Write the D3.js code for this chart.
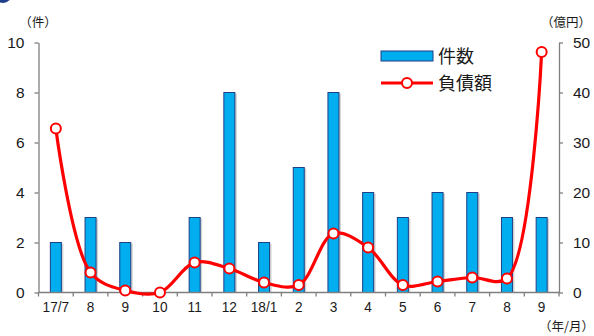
<!DOCTYPE html>
<html>
<head>
<meta charset="utf-8">
<script src="https://cdn.jsdelivr.net/npm/d3@7/dist/d3.min.js"></script>
<style>
  html, body { margin: 0; padding: 0; background: #fff; }
  svg { display: block; }
  text { font-family: "Liberation Sans", Arial, "Noto Sans CJK JP", sans-serif; fill: #1a1a1a; }
  .cjk { font-family: "Noto Sans CJK JP", "Noto Sans", sans-serif; }
</style>
</head>
<body>
<svg id="chart" width="594" height="336"></svg>
<script>
// Monthly bankruptcies: count (bars, left axis) and liabilities in 億円 (line, right axis)
const months = ["17/7", "8", "9", "10", "11", "12", "18/1", "2", "3", "4", "5", "6", "7", "8", "9"];
const counts = [2, 3, 2, 0, 3, 8, 2, 5, 8, 4, 3, 4, 4, 3, 3];
const debts = [32.8, 4.0, 0.4, 0.0, 6.0, 4.8, 2.0, 1.5, 11.8, 9.0, 1.5, 2.2, 3.0, 2.8, 48.1];
const countTicks = [0, 2, 4, 6, 8, 10];
const debtTicks = [0, 10, 20, 30, 40, 50];

const svg = d3.select("#chart");
const plotL = 38.5, plotR = 559, plotT = 42.5, plotB = 292.5;

const keys = months.map((m, i) => i);
const x = d3.scaleBand().domain(keys).range([plotL, plotR]);
const yL = d3.scaleLinear().domain([0, 10]).range([plotB, plotT]);
const yR = d3.scaleLinear().domain([0, 50]).range([plotB, plotT]);

// decorative bullet in the top-left corner
svg.append("circle").attr("cx", 3).attr("cy", -6).attr("r", 9).attr("fill", "#1f3d8a");

// bars with a faint drop shadow
const barW = 11;
const bars = svg.append("g");
bars.selectAll("rect.shadow").data(counts).join("rect")
  .attr("class", "shadow")
  .attr("x", (d, i) => x(i) + x.bandwidth() / 2 - barW / 2 + 2)
  .attr("y", d => yL(d) + 1)
  .attr("width", barW)
  .attr("height", d => Math.max(0, plotB - yL(d) - 1))
  .attr("fill", "#c8c8c8")
  .attr("opacity", d => d > 0 ? 0.8 : 0);
bars.selectAll("rect.bar").data(counts).join("rect")
  .attr("class", "bar")
  .attr("x", (d, i) => x(i) + x.bandwidth() / 2 - barW / 2)
  .attr("y", d => yL(d))
  .attr("width", barW)
  .attr("height", d => plotB - yL(d))
  .attr("fill", "#00aeef")
  .attr("stroke", "#1d3f86")
  .attr("stroke-width", 1)
  .attr("opacity", d => d > 0 ? 1 : 0);

// axes
const axisStyle = g => {
  g.selectAll("path, line").attr("stroke", "#7f7f7f").attr("stroke-width", 1.3);
  g.selectAll("text").attr("font-size", 15.5).attr("fill", "#1a1a1a");
};
svg.append("g").attr("transform", `translate(${plotL},0)`)
  .call(d3.axisLeft(yL).tickValues(countTicks).tickSize(4).tickSizeOuter(0).tickPadding(10))
  .call(axisStyle);
svg.append("g").attr("transform", `translate(${plotR},0)`)
  .call(d3.axisRight(yR).tickValues(debtTicks).tickSize(4).tickSizeOuter(0).tickPadding(10))
  .call(axisStyle);

// x axis: ticks on band boundaries, labels centred under each band
const xg = svg.append("g").attr("transform", `translate(0,${plotB})`);
xg.append("line").attr("x1", plotL).attr("x2", plotR).attr("stroke", "#7f7f7f").attr("stroke-width", 1.3);
xg.selectAll("line.tk").data(d3.range(months.length + 1)).join("line")
  .attr("class", "tk")
  .attr("x1", i => plotL + i * x.step()).attr("x2", i => plotL + i * x.step())
  .attr("y1", 0).attr("y2", 4)
  .attr("stroke", "#7f7f7f").attr("stroke-width", 1.3);
xg.selectAll("text").data(months).join("text")
  .attr("x", (d, i) => x(i) + x.bandwidth() / 2)
  .attr("y", 20)
  .attr("text-anchor", "middle")
  .attr("font-size", 15.5)
  .attr("transform", (d, i) => {
    const cx = x(i) + x.bandwidth() / 2;
    return `translate(${cx},0) scale(0.88,1) translate(${-cx},0)`;
  })
  .text(d => d);

// debt line
const line = d3.line()
  .x((d, i) => x(i) + x.bandwidth() / 2)
  .y(d => yR(d))
  .curve(d3.curveCatmullRom.alpha(0.5));
svg.append("path").datum(debts)
  .attr("d", line)
  .attr("fill", "none")
  .attr("stroke", "#ff0000")
  .attr("stroke-width", 3.2);
svg.append("g").selectAll("circle").data(debts).join("circle")
  .attr("cx", (d, i) => x(i) + x.bandwidth() / 2)
  .attr("cy", d => yR(d))
  .attr("r", 5)
  .attr("fill", "#fff")
  .attr("stroke", "#ff0000")
  .attr("stroke-width", 2);

// unit labels
svg.append("text").attr("class", "cjk").attr("x", 38).attr("y", 27).attr("text-anchor", "middle")
  .attr("font-size", 12.5).text("（件）");
svg.append("text").attr("class", "cjk").attr("x", 566).attr("y", 27).attr("text-anchor", "middle")
  .attr("font-size", 12.5).text("（億円）");
svg.append("text").attr("class", "cjk").attr("x", 594).attr("y", 331).attr("text-anchor", "end")
  .attr("font-size", 12.5).text("（年/月）");

// legend
const lg = svg.append("g");
lg.append("rect").attr("x", 381).attr("y", 51).attr("width", 52).attr("height", 10)
  .attr("fill", "#00aeef").attr("stroke", "#1d3f86").attr("stroke-width", 1);
lg.append("text").attr("class", "cjk").attr("x", 438).attr("y", 62.5).attr("font-size", 18).text("件数");
lg.append("line").attr("x1", 381).attr("x2", 433).attr("y1", 83).attr("y2", 83)
  .attr("stroke", "#ff0000").attr("stroke-width", 3.2);
lg.append("circle").attr("cx", 407).attr("cy", 83).attr("r", 5)
  .attr("fill", "#fff").attr("stroke", "#ff0000").attr("stroke-width", 2);
lg.append("text").attr("class", "cjk").attr("x", 438).attr("y", 89.5).attr("font-size", 18).text("負債額");
</script>
</body>
</html>
